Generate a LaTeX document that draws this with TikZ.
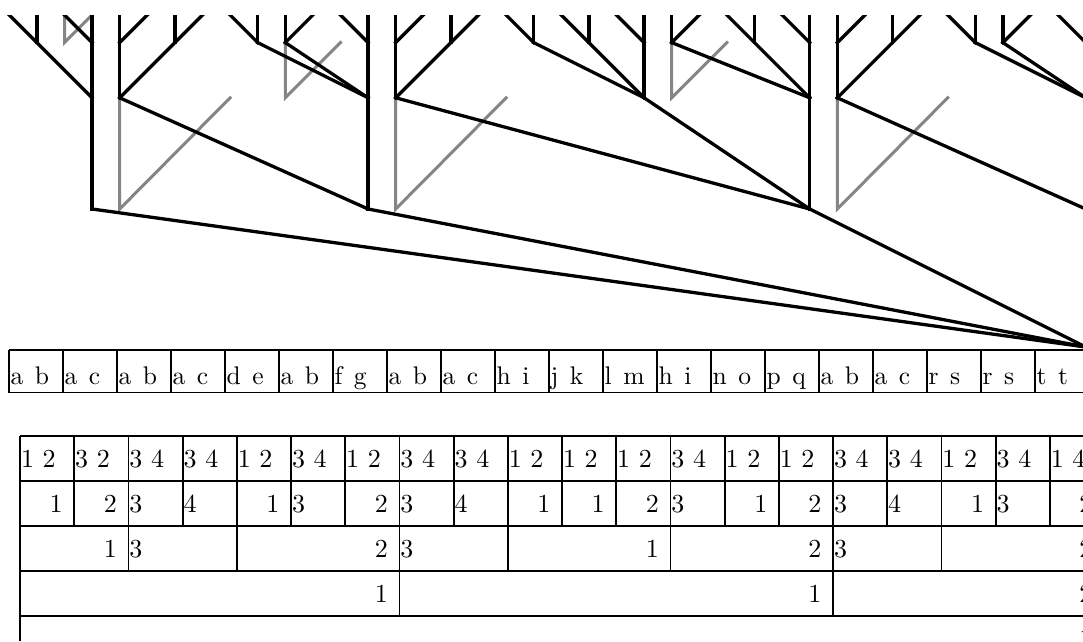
\documentclass[tikz,border=0pt]{standalone}
\usepackage{fontspec}
\setmainfont{lmroman10-regular}[Extension=.otf]
\begin{document}
\begin{tikzpicture}[x=1pt,y=-1pt,
  tree/.style={line width=3.3pt, line cap=rect},
  alt/.style={line width=3pt, draw=black!48, line cap=rect},
  grid/.style={line width=1.8pt},
  lab/.style={inner sep=0pt, font=\fontsize{10pt}{12pt}\selectfont, scale=2.55},
  num/.style={inner sep=0pt, font=\fontsize{10pt}{12pt}\selectfont, scale=2.6},
]
\path[use as bounding box] (0,0) rectangle (1083,641);
\clip (0,0) rectangle (1083,641);

% tree points: leaf index k, level l
\foreach \k in {0,...,39}{
  \foreach \l/\yy in {0/15,1/42.6,2/97.8,3/209,4/347}{
    \coordinate (n\k-\l) at ({9.3+27.6*\k},\yy);
  }
}

\begin{scope}
\clip (0,15) rectangle (1083,641);
% gray alternative edges
\draw[alt] (n2-0) -- (n2-1) -- (n3-0);
\draw[alt] (n4-2) -- (n4-3) -- (n8-2);
\draw[alt] (n10-1) -- (n10-2) -- (n12-1);
\draw[alt] (n14-2) -- (n14-3) -- (n18-2);
\draw[alt] (n24-1) -- (n24-2) -- (n26-1);
\draw[alt] (n30-2) -- (n30-3) -- (n34-2);
% group 1
\draw[tree] (n0-0) -- (n3-2);
\draw[tree] (n1-0) -- (n1-1);
\draw[tree] (n2-0) -- (n3-1);
\draw[tree] (n3-0) -- (n3-3);
% group 2
\draw[tree] (n4-0) -- (n4-2);
\draw[tree] (n4-1) -- (n5-0);
\draw[tree] (n6-0) -- (n6-1);
\draw[tree] (n4-2) -- (n7-0);
\draw[tree] (n4-2) -- (n13-3);
% group 3
\draw[tree] (n8-0) -- (n9-1);
\draw[tree] (n9-0) -- (n9-1);
\draw[tree] (n10-0) -- (n10-1);
\draw[tree] (n10-1) -- (n11-0);
\draw[tree] (n12-0) -- (n13-1);
\draw[tree] (n9-1) -- (n13-2);
\draw[tree] (n10-1) -- (n13-2);
\draw[tree] (n13-0) -- (n13-3);
% group 4
\draw[tree] (n14-0) -- (n14-2);
\draw[tree] (n14-1) -- (n15-0);
\draw[tree] (n16-0) -- (n16-1);
\draw[tree] (n14-2) -- (n17-0);
\draw[tree] (n14-2) -- (n29-3);
% group 5
\draw[tree] (n18-0) -- (n19-1);
\draw[tree] (n19-0) -- (n19-1);
\draw[tree] (n19-1) -- (n23-2);
\draw[tree] (n20-0) -- (n23-2);
\draw[tree] (n21-0) -- (n21-1);
\draw[tree] (n22-0) -- (n23-1);
\draw[tree] (n23-0) -- (n23-2);
\draw[tree] (n23-2) -- (n29-3);
\draw[tree] (n24-0) -- (n24-1);
\draw[tree] (n24-1) -- (n25-0);
\draw[tree] (n24-1) -- (n29-2);
\draw[tree] (n26-0) -- (n29-2);
\draw[tree] (n27-0) -- (n27-1);
\draw[tree] (n28-0) -- (n29-1);
\draw[tree] (n29-0) -- (n29-3);
% group 6
\draw[tree] (n30-0) -- (n30-2);
\draw[tree] (n30-1) -- (n31-0);
\draw[tree] (n32-0) -- (n32-1);
\draw[tree] (n30-2) -- (n33-0);
\draw[tree] (n30-2) -- (n39-3);
% group 7
\draw[tree] (n34-0) -- (n35-1);
\draw[tree] (n35-0) -- (n35-1);
\draw[tree] (n35-1) -- (n39-2);
\draw[tree] (n36-0) -- (n36-1);
\draw[tree] (n36-1) -- (n37-0);
\draw[tree] (n36-1) -- (n39-2);
\draw[tree] (n38-0) -- (n39-1);
% to root
\draw[tree] (n3-3) -- (n39-4);
\draw[tree] (n13-3) -- (n39-4);
\draw[tree] (n29-3) -- (n39-4);
\end{scope}

% letter table
\draw[grid] (9,350) -- (1083,350);
\draw[grid] (9,392.5) -- (1083,392.5);
\foreach \i in {0,...,19}
  \draw[grid] ({9+54*\i},350) -- ({9+54*\i},392.5);
\foreach \p/\q [count=\i from 0] in {a/b,a/c,a/b,a/c,d/e,a/b,f/g,a/b,a/c,h/i,j/k,l/m,h/i,n/o,p/q,a/b,a/c,r/s,r/s,t/t}
  \node[lab, anchor=base west] (L\i) at ({9+54*\i+1.2},384.5) {\p\hspace{0.45em}\q};

% number table
\foreach \y in {436,481,526,571,616}
  \draw[grid] (20,\y) -- (1083,\y);
\draw[grid] (20,436) -- (20,641);
\foreach \k in {1,...,19}
  \draw[grid] ({20+54.2*\k},436) -- ({20+54.2*\k},526);
\foreach \k in {2,4,7,9,12,15,17}
  \draw[grid] ({20+54.2*\k},526) -- ({20+54.2*\k},571);
\foreach \k in {7,15}
  \draw[grid] ({20+54.2*\k},571) -- ({20+54.2*\k},616);

% row 1
\foreach \t [count=\i from 0] in {1 2,3 2,3 4,3 4,1 2,3 4,1 2,3 4,3 4,1 2,1 2,1 2,3 4,1 2,1 2,3 4,3 4,1 2,3 4,1 4}
  \node[num, anchor=base west] (a\i) at ({20+54.2*\i+0.5},467.5) {\t};
% row 2
\foreach \t/\b [count=\i] in {1/1,2/2,1/5,2/7,1/10,1/11,2/12,1/14,2/15,1/18,2/20}
  \node[num, anchor=base east] (bR\i) at ({20+54.2*\b-11},512.5) {\t};
\foreach \t/\b [count=\i] in {3/2,4/3,3/5,3/7,4/8,3/12,3/15,4/16,3/18}
  \node[num, anchor=base west] (bL\i) at ({20+54.2*\b+0.5},512.5) {\t};
% row 3
\foreach \t/\b [count=\i] in {1/2,2/7,1/12,2/15,2/20}
  \node[num, anchor=base east] (cR\i) at ({20+54.2*\b-11},557.5) {\t};
\foreach \t/\b [count=\i] in {3/2,3/7,3/15}
  \node[num, anchor=base west] (cL\i) at ({20+54.2*\b+0.5},557.5) {\t};
% row 4
\foreach \t/\b [count=\i] in {1/7,1/15,2/20}
  \node[num, anchor=base east] (dR\i) at ({20+54.2*\b-11},602.5) {\t};
% row 5
\node[num, anchor=base east] (e1) at ({20+54.2*20-11},647.5) {1};
\end{tikzpicture}
\end{document}
